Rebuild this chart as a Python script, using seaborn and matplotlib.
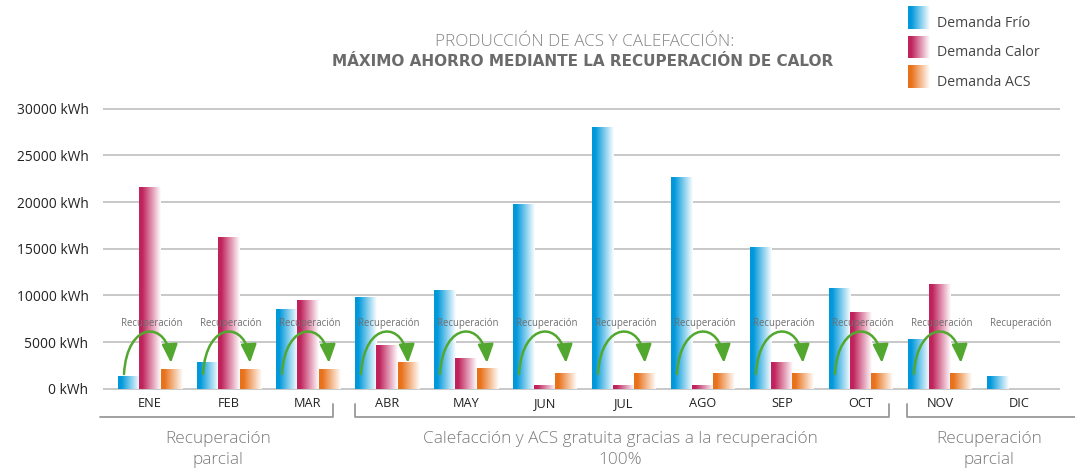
import numpy as np
import pandas as pd
import matplotlib
matplotlib.use("Agg")
import matplotlib.pyplot as plt
from matplotlib.colors import LinearSegmentedColormap, to_rgb
from matplotlib.path import Path
from matplotlib.patches import FancyArrowPatch
import seaborn as sns

# ---- data -------------------------------------------------------------
meses = ["ENE", "FEB", "MAR", "ABR", "MAY", "JUN", "JUL", "AGO", "SEP", "OCT", "NOV", "DIC"]
series = ["Demanda Frío", "Demanda Calor", "Demanda ACS"]
frio = [1300, 2800, 8500, 9800, 10500, 19700, 28000, 22600, 15100, 10800, 5300, 1300]
calor = [21600, 16200, 9500, 4700, 3300, 400, 400, 400, 2800, 8200, 11200, 0]
acs = [2100, 2100, 2100, 2800, 2200, 1700, 1700, 1700, 1700, 1700, 1700, 0]
con_flecha = [True] * 11 + [False]
yticks = [0, 5000, 10000, 15000, 20000, 25000, 30000]
ytick_labels = [f"{v} kWh" for v in yticks]
titulo_1 = "PRODUCCIÓN DE ACS Y CALEFACCIÓN:"
titulo_2 = "MÁXIMO AHORRO MEDIANTE LA RECUPERACIÓN DE CALOR"
etiqueta_flecha = "Recuperación"
grupos = ["Recuperación\nparcial",
          "Calefacción y ACS gratuita gracias a la recuperación\n100%",
          "Recuperación\nparcial"]

df = pd.DataFrame({
    "mes": meses * 3,
    "serie": [s for s in series for _ in meses],
    "valor": frio + calor + acs,
})

# ---- style ------------------------------------------------------------
colores = {"Demanda Frío": "#0098da", "Demanda Calor": "#c0235c", "Demanda ACS": "#e8711a"}
verde = "#52a82e"
gris_rejilla = "#c8c8c8"

sns.set_theme(style="white")
plt.rcParams["font.family"] = ["Open Sans", "DejaVu Sans"]


def degradado(color):
    r, g, b = to_rgb(color)
    return LinearSegmentedColormap.from_list(
        "g", [(0.0, (r, g, b)), (0.15, (r, g, b)), (1.0, (1, 1, 1))])


W, H = 1075, 471
fig = plt.figure(figsize=(W / 100, H / 100), dpi=100)
fig.patch.set_facecolor("white")

ylo, yhi = -250, 31000
xlo, xhi = -0.595, 11.52
ax = fig.add_axes([103 / W, 0.1692, (1060 - 103) / W, 0.6202])

sns.barplot(data=df, x="mes", y="valor", hue="serie", order=meses,
            hue_order=series, width=0.8, dodge=True, legend=False,
            palette=colores, ax=ax)

# replace flat bars with horizontal colour-to-white gradients
grad = np.linspace(0, 1, 256).reshape(1, -1)
for serie, cont in zip(series, ax.containers):
    cmap = degradado(colores[serie])
    for bar in cont:
        bar.set_visible(False)
        h = bar.get_height()
        if h <= 0:
            continue
        x0 = bar.get_x()
        ax.imshow(grad, extent=[x0, x0 + bar.get_width(), 0, h], aspect="auto",
                  cmap=cmap, interpolation="bilinear", zorder=2)

ax.set_xlim(xlo, xhi)
ax.set_ylim(ylo, yhi)
for s in ax.spines.values():
    s.set_visible(False)

for v in yticks:
    ax.axhline(v, color=gris_rejilla, lw=1.4, zorder=0)
ax.set_yticks(yticks)
ax.set_yticklabels(ytick_labels, fontsize=9.9, color="#222222")
ax.tick_params(axis="y", length=0, pad=10.5)
ax.tick_params(axis="x", length=0, pad=4.3, labelsize=9.2, labelcolor="#222222")
ax.set_xlabel("")
ax.set_ylabel("")

# heat-recovery arrows: cubic curve from the cooling bar over to the hot-water bar
arco_dx = [-0.329, -0.291, 0.228, 0.266]
arco_y = [1600, 7380, 7380, 2780]
for i, flecha in enumerate(con_flecha):
    ax.text(i + 0.02, 7050, etiqueta_flecha, ha="center", va="center",
            fontsize=6.9, color="#6e6e6e", zorder=5)
    if flecha:
        pts = [(i + dx, y) for dx, y in zip(arco_dx, arco_y)]
        camino = Path(pts, [Path.MOVETO, Path.CURVE4, Path.CURVE4, Path.CURVE4])
        ax.add_patch(FancyArrowPatch(
            path=camino, arrowstyle="-|>,head_length=0.8,head_width=0.34",
            mutation_scale=14, color=verde, lw=1.8, zorder=6))

# ---- overlay in pixel coordinates: title, legend, brackets -------------
ov = fig.add_axes([0, 0, 1, 1], facecolor="none")
ov.set_axis_off()

ov.text(585, 42, titulo_1, ha="center", va="center", fontsize=12.3,
        color="#858585", fontweight="light")
ov.text(583, 61, titulo_2, ha="center", va="center", fontsize=11.0,
        color="#6b6b6b", fontweight="bold", family=["DejaVu Sans"])

ley_y = [(6, 29), (36, 58), (65, 88)]
for serie, (y0, y1) in zip(series, ley_y):
    ov.imshow(grad, extent=[908, 930, y1, y0], aspect="auto",
              cmap=degradado(colores[serie]), interpolation="bilinear")
    ov.text(937, (y0 + y1) / 2 + 6, serie, ha="left", va="center",
            fontsize=10.2, color="#444444")

gris_llave = "#9a9a9a"
ov.plot([100, 333, 333], [417, 417, 404], color=gris_llave, lw=1.3)
ov.plot([355, 355, 889, 889], [404, 417, 417, 404], color=gris_llave, lw=1.3)
ov.plot([907, 907, 1075], [404, 417, 417], color=gris_llave, lw=1.3)

for texto, cx in zip(grupos, [218, 620, 989]):
    ov.text(cx, 449.5, texto, ha="center", va="center", fontsize=12.4,
            color="#7a7a7a", fontweight="light", linespacing=1.38)

ov.set_xlim(0, W)
ov.set_ylim(H, 0)

fig.savefig("out.png", dpi=100, facecolor="white")
